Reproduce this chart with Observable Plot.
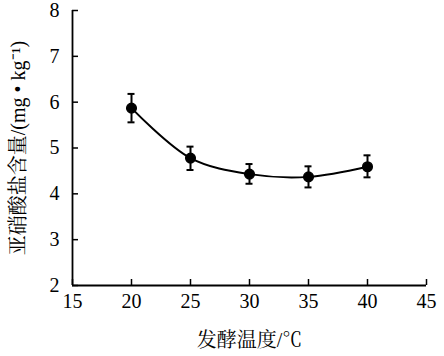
<!DOCTYPE html>
<html>
<head>
<meta charset="utf-8">
<script src="https://cdn.jsdelivr.net/npm/d3@7"></script>
<script src="https://cdn.jsdelivr.net/npm/@observablehq/plot@0.6"></script>
<style>
  html, body { margin: 0; padding: 0; background: #fff; }
  #chart svg { display: block; }
</style>
</head>
<body>
<div id="chart"></div>
<script>
const temperatures = [20, 25, 30, 35, 40];
const nitrite = [5.87, 4.78, 4.43, 4.37, 4.59];
const errLow = [5.56, 4.52, 4.22, 4.14, 4.36];
const errHigh = [6.18, 5.03, 4.65, 4.60, 4.84];
const xTicks = [15, 20, 25, 30, 35, 40, 45];
const yTicks = [2, 3, 4, 5, 6, 7, 8];
const xLabel = "发酵温度/℃";
const yLabel = "亚硝酸盐含量/(mg • kg⁻¹)";

const data = temperatures.map((t, i) => ({x: t, y: nitrite[i], lo: errLow[i], hi: errHigh[i]}));

const serif = "'Liberation Serif', 'Times New Roman', serif";
const cjk = "'Liberation Serif', 'Noto Serif CJK SC', 'Noto Sans CJK SC', serif";

const chart = Plot.plot({
  width: 444,
  height: 356,
  marginLeft: 72,
  marginRight: 18,
  marginTop: 10,
  marginBottom: 71,
  style: {fontFamily: serif, fontSize: "20px", color: "#000", background: "#fff"},
  x: {domain: [15, 45]},
  y: {domain: [2, 8]},
  marks: [
    Plot.axisX({ticks: xTicks, tickFormat: "d", tickSize: 0, tickPadding: 8, label: null, fontSize: 20, fontFamily: serif}),
    Plot.axisX({ticks: xTicks, tickSize: 6, dy: -6, text: null, label: null, strokeWidth: 1.5}),
    Plot.axisY({ticks: yTicks, tickFormat: "d", tickSize: 0, tickPadding: 13, label: null, fontSize: 20, fontFamily: serif}),
    Plot.axisY({ticks: yTicks, tickSize: 6, dx: 6, text: null, label: null, strokeWidth: 1.5}),
    Plot.ruleX([15], {stroke: "#000", strokeWidth: 1.8}),
    Plot.ruleY([2], {stroke: "#000", strokeWidth: 1.8}),
    Plot.line(data, {x: "x", y: "y", curve: "catmull-rom", stroke: "#000", strokeWidth: 2}),
    Plot.ruleX(data, {x: "x", y1: "lo", y2: "hi", stroke: "#000", strokeWidth: 2}),
    Plot.ruleY(data, {y: "hi", x1: "x", x2: "x", insetLeft: -3.5, insetRight: -3.5, stroke: "#000", strokeWidth: 2}),
    Plot.ruleY(data, {y: "lo", x1: "x", x2: "x", insetLeft: -3.5, insetRight: -3.5, stroke: "#000", strokeWidth: 2}),
    Plot.dot(data, {x: "x", y: "y", r: 4.8, fill: "#000", stroke: "#000"}),
    Plot.text([xLabel], {frameAnchor: "bottom", textAnchor: "middle", lineAnchor: "middle", dy: 55, fontSize: 20, fontFamily: cjk, fill: "#000"}),
    Plot.text([yLabel], {frameAnchor: "left", textAnchor: "middle", lineAnchor: "middle", dx: -54, rotate: -90, fontSize: 20, fontFamily: cjk, fill: "#000"})
  ]
});
document.getElementById("chart").appendChild(chart);
</script>
</body>
</html>
